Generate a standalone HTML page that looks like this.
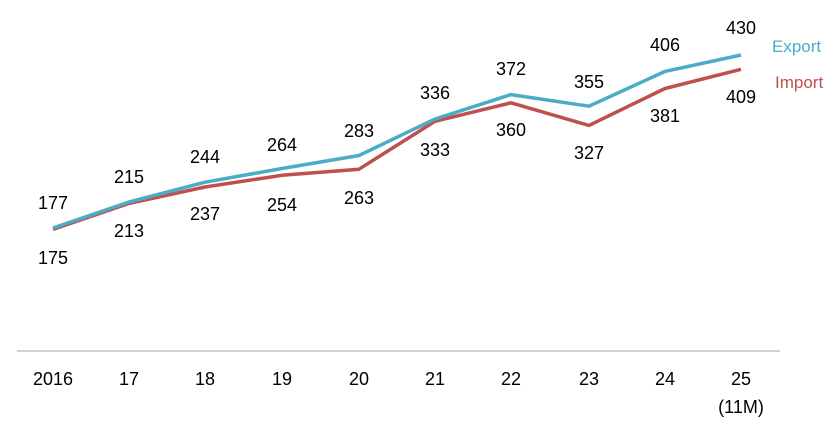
<!DOCTYPE html>
<html><head><meta charset="utf-8"><style>
html,body{margin:0;padding:0;background:#fff;}
svg{display:block;font-family:"Liberation Sans",sans-serif;}
</style></head><body>
<svg width="839" height="432" viewBox="0 0 839 432">
<line x1="17" y1="351" x2="780" y2="351" stroke="#a6a6a6" stroke-width="1"/>
<polyline fill="none" stroke="#C0504D" stroke-width="3.5" stroke-linejoin="round" points="53,229.4 129,203.4 205,187 282,175.3 359,169.2 435,121.3 511,102.8 589,125.4 665,88.5 741,69.3"/>
<polyline fill="none" stroke="#4BACC6" stroke-width="3.5" stroke-linejoin="round" points="53,228 129,202 205,182.2 282,168.5 359,155.5 435,119 511,94.6 589,106.2 665,71.4 741,55"/>
<g font-size="18" fill="#000" text-anchor="middle">
<text x="53" y="209">177</text><text x="129" y="183">215</text><text x="205" y="163">244</text><text x="282" y="151">264</text><text x="359" y="137">283</text><text x="435" y="99">336</text><text x="511" y="75">372</text><text x="589" y="88">355</text><text x="665" y="51">406</text><text x="741" y="34">430</text>
<text x="53" y="264">175</text><text x="129" y="237">213</text><text x="205" y="220">237</text><text x="282" y="211">254</text><text x="359" y="204">263</text><text x="435" y="156">333</text><text x="511" y="136">360</text><text x="589" y="159">327</text><text x="665" y="122">381</text><text x="741" y="103">409</text>
<text x="53" y="385">2016</text><text x="129" y="385">17</text><text x="205" y="385">18</text><text x="282" y="385">19</text><text x="359" y="385">20</text><text x="435" y="385">21</text><text x="511" y="385">22</text><text x="589" y="385">23</text><text x="665" y="385">24</text><text x="741" y="385">25</text><text x="741" y="413">(11M)</text>
</g>
<text x="772" y="52" font-size="17" fill="#4BACC6">Export</text>
<text x="775" y="88" font-size="17" fill="#C0504D">Import</text>
</svg>
</body></html>
